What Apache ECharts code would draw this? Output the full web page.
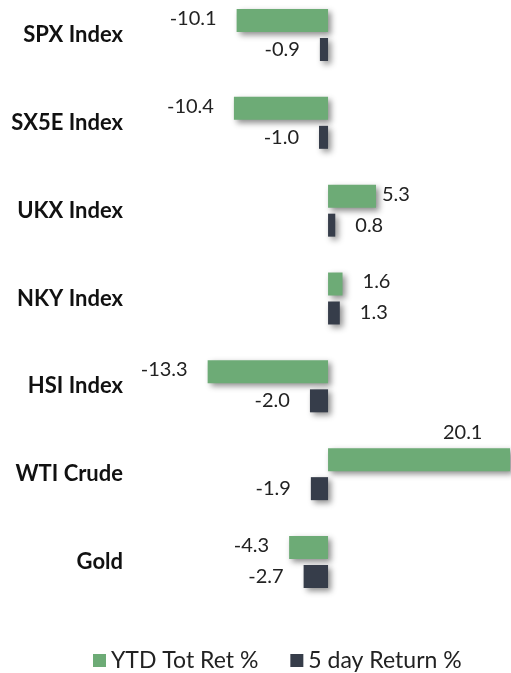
<!DOCTYPE html>
<html>
<head>
<meta charset="utf-8">
<script src="https://cdn.jsdelivr.net/npm/echarts@6/dist/echarts.min.js"></script>
<style>
  html, body { margin: 0; padding: 0; background: #fff; }
  #main { width: 511px; height: 673px; }
</style>
</head>
<body>
<div id="main"></div>
<script>
const categories = ["SPX Index", "SX5E Index", "UKX Index", "NKY Index", "HSI Index", "WTI Crude", "Gold"];
const ytdReturn = [-10.1, -10.4, 5.3, 1.6, -13.3, 20.1, -4.3];
const fiveDayReturn = [-0.9, -1.0, 0.8, 1.3, -2.0, -1.9, -2.7];
const seriesNames = ["YTD Tot Ret %", "5 day Return %"];

const labelFont = "Lato, sans-serif";

// put labels on the outside end of each bar
const withLabels = (values, special) => {
  return values.map((v, i) => {
    const item = { value: v, label: { position: v < 0 ? "left" : "right" } };
    if (special && special[i]) item.label = Object.assign(item.label, special[i]);
    return item;
  });
};

const shadow = {
  shadowColor: "rgba(0,0,0,0.45)",
  shadowBlur: 6,
  shadowOffsetX: 3,
  shadowOffsetY: 3,
};

const chart = echarts.init(document.getElementById("main"));
chart.setOption({
  animation: false,
  // category centres sit on the grid edges (boundaryGap false)
  grid: { left: 147, right: 1, top: 35, bottom: 111 },
  xAxis: {
    type: "value",
    min: -20,
    max: 20.1,
    show: false,
  },
  yAxis: {
    type: "category",
    data: categories,
    inverse: true,
    boundaryGap: false,
    axisLine: { show: false },
    axisTick: { show: false },
    splitLine: { show: false },
    axisLabel: {
      margin: 24,
      color: "#111",
      fontFamily: labelFont,
      fontWeight: "bold",
      fontSize: 22,
    },
  },
  legend: {
    top: 644,
    left: 88,
    itemWidth: 13,
    itemHeight: 13,
    itemGap: 32,
    icon: "rect",
    textStyle: { fontFamily: labelFont, fontSize: 23, color: "#222" },
    data: seriesNames,
  },
  series: [
    {
      name: seriesNames[0],
      type: "bar",
      barWidth: 23,
      barGap: "26%",
      itemStyle: Object.assign({ color: "#6DAB76" }, shadow),
      label: {
        show: true,
        distance: 20,
        fontFamily: labelFont,
        fontSize: 20,
        color: "#222",
        formatter: (p) => p.value.toFixed(1),
        offset: [0, -2],
      },
      data: withLabels(ytdReturn, {
        2: { distance: 6 },
        5: { position: ["74%", -4], align: "center", verticalAlign: "bottom" },
      }),
    },
    {
      name: seriesNames[1],
      type: "bar",
      barWidth: 23,
      itemStyle: Object.assign({ color: "#363D4A" }, shadow),
      label: {
        show: true,
        distance: 20,
        fontFamily: labelFont,
        fontSize: 20,
        color: "#222",
        formatter: (p) => p.value.toFixed(1),
      },
      data: withLabels(fiveDayReturn),
    },
  ],
});
</script>
</body>
</html>
